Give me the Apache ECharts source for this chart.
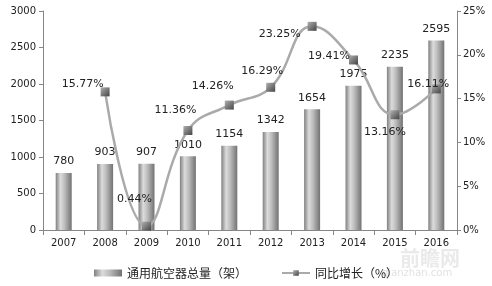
<!DOCTYPE html>
<html><head><meta charset="utf-8">
<script src="https://cdn.jsdelivr.net/npm/echarts@6/dist/echarts.min.js"></script>
<style>html,body{margin:0;padding:0;background:#fff}#c{width:492px;height:286px}</style>
</head><body><div id="c"></div>
<script>
const years = ['2007','2008','2009','2010','2011','2012','2013','2014','2015','2016'];
const fleet = [780, 903, 907, 1010, 1154, 1342, 1654, 1975, 2235, 2595];
const growth = [null, 15.77, 0.44, 11.36, 14.26, 16.29, 23.25, 19.41, 13.16, 16.11];
const seriesNames = ['通用航空器总量（架）', '同比增长（%）'];
// label placement per point (position, offset)
const growthLabelPos = [null, ['left',[8,-8]], ['left',[15,-27]], ['left',[18,-20]], ['left',[14,-19]], ['left',[22,-16]], ['left',[-2,8]], ['left',[6,-4]], ['bottom',[-10,2]], ['inside',[-8,-5]]];

const font = 'DejaVu Sans';
const chart = echarts.init(document.getElementById('c'));
const barGrad = new echarts.graphic.LinearGradient(0,0,1,0,[
  {offset:0,color:'#808080'},{offset:0.3,color:'#dcdcdc'},{offset:0.55,color:'#bdbdbd'},{offset:1,color:'#727272'}]);
const markGrad = new echarts.graphic.LinearGradient(0,0,1,1,[
  {offset:0,color:'#b0b0b0'},{offset:0.5,color:'#7a7a7a'},{offset:1,color:'#444444'}]);
chart.setOption({
  animation:false,
  textStyle:{fontFamily:font},
  grid:{left:43,right:35,top:11,bottom:56},
  legend:{bottom:2,left:'center',itemGap:34,itemWidth:28,itemHeight:7,
    textStyle:{fontFamily:'Noto Sans CJK SC',fontSize:12,color:'#222'},
    data:[{name:seriesNames[0],icon:'rect'},{name:seriesNames[1]}]},
  xAxis:{type:'category',data:years,
    axisLine:{lineStyle:{color:'#868686'}},
    axisTick:{show:true,length:5,lineStyle:{color:'#868686'}},
    axisLabel:{color:'#222',fontSize:10,fontFamily:font,margin:8}},
  yAxis:[
    {type:'value',min:0,max:3000,interval:500,splitLine:{show:false},
      axisLine:{show:true,lineStyle:{color:'#868686'}},
      axisTick:{show:true,length:4,lineStyle:{color:'#868686'}},
      axisLabel:{color:'#222',fontSize:10,fontFamily:font,margin:7,formatter:v=>String(v)}},
    {type:'value',min:0,max:25,interval:5,splitLine:{show:false},position:'right',
      axisLine:{show:true,lineStyle:{color:'#868686'}},
      axisTick:{show:true,length:4,lineStyle:{color:'#868686'}},
      axisLabel:{color:'#222',fontSize:10,fontFamily:font,margin:6,formatter:'{value}%'}}
  ],
  series:[
    {name:seriesNames[0],type:'bar',data:fleet,barWidth:16,
      itemStyle:{color:barGrad},
      label:{show:true,position:'top',distance:6,color:'#222',fontSize:11,fontFamily:font}},
    {name:seriesNames[1],type:'line',yAxisIndex:1,smooth:0.45,
      data:growth.map((v,i)=> v==null?null:{value:v,label:{position:growthLabelPos[i][0],offset:growthLabelPos[i][1]}}),
      symbol:'rect',symbolSize:9,
      lineStyle:{color:'#aaaaaa',width:2.5},
      itemStyle:{color:markGrad,borderWidth:0},
      label:{show:true,color:'#222',fontSize:11,fontFamily:font,formatter:p=>p.value.toFixed(2)+'%'}}
  ],
  graphic:[
    {type:'text',left:400,top:248,style:{text:'前瞻网',font:'bold 20px "Noto Sans CJK SC"',fill:'rgba(170,170,170,0.25)'}},
    {type:'text',left:382,top:268,style:{text:'qianzhan.com',font:'10px DejaVu Sans',fill:'rgba(170,170,170,0.35)'}}
  ]
});
</script></body></html>
